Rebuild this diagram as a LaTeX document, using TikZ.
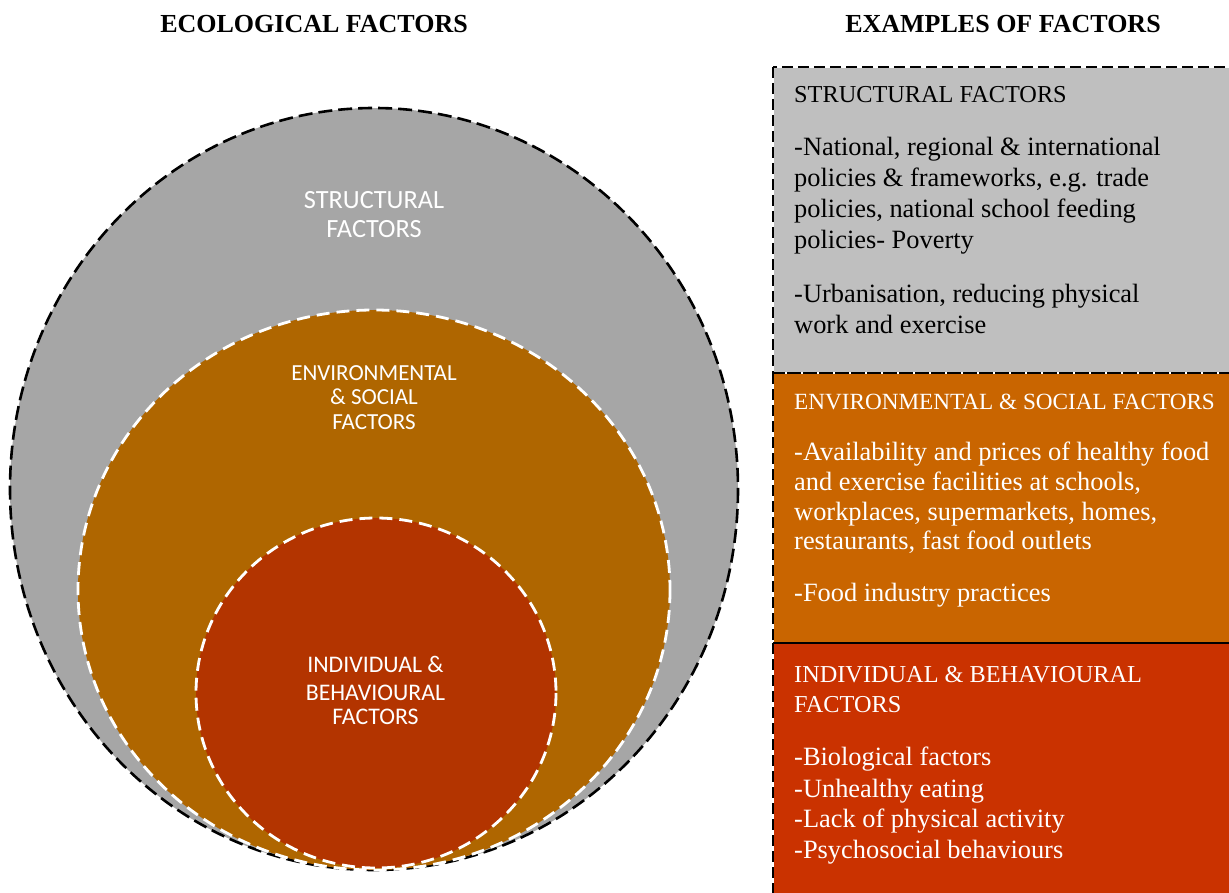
\documentclass[tikz,border=0pt]{standalone}
\usepackage{fontspec}
\setmainfont{Liberation Serif}
\newfontfamily\carlito{Carlito}
\definecolor{ellgray}{HTML}{A6A6A6}
\definecolor{ellorange}{HTML}{AF6600}
\definecolor{ellred}{HTML}{B33400}
\definecolor{boxgray}{HTML}{BFBFBF}
\definecolor{boxorange}{HTML}{C96500}
\definecolor{boxred}{HTML}{CA3200}
\begin{document}
\begin{tikzpicture}[x=1pt,y=-1pt,
  boxline/.style={anchor=base west, inner sep=0pt, font=\fontsize{26.4}{31}\selectfont},
  boxcaps/.style={anchor=base west, inner sep=0pt, font=\fontsize{24.3}{31}\selectfont},
  heading/.style={anchor=base, inner sep=0pt, font=\fontsize{26}{30}\selectfont\bfseries},
  circbig/.style={anchor=base, inner sep=0pt, text=white, font=\carlito\fontsize{26.3}{30}\selectfont},
  circenv/.style={anchor=base, inner sep=0pt, text=white, font=\carlito\fontsize{23}{27}\selectfont},
  circind/.style={anchor=base, inner sep=0pt, text=white, font=\carlito\fontsize{23.8}{27}\selectfont},
  outerdash/.style={draw=black, line width=2.6pt, dash pattern=on 14pt off 6pt},
  innerdash/.style={draw=white, line width=2.8pt, dash pattern=on 13pt off 7pt},
  boxwhite/.style={draw=white, line width=2.6pt},
  boxdash/.style={draw=black, line width=2.6pt, dash pattern=on 11pt off 5pt}
]
\clip (0,0) rectangle (1229,893);
\fill[white] (0,0) rectangle (1229,893);

% nested ellipses
\fill[ellgray] (374,489) ellipse [x radius=364, y radius=381];
\draw[outerdash] (374,489) ellipse [x radius=364, y radius=381];
\fill[ellorange] (374,590) ellipse [x radius=296, y radius=280];
\draw[innerdash] (374,590) ellipse [x radius=296, y radius=280];
\fill[ellred] (376,693) ellipse [x radius=180, y radius=175];
\draw[innerdash] (376,693) ellipse [x radius=180, y radius=175];

% circle labels
\node[circbig] (s1) at (374,209) {STRUCTURAL};
\node[circbig] (s2) at (374,238) {FACTORS};
\node[circenv] (e1) at (374,380) {ENVIRONMENTAL};
\node[circenv] (e2) at (374,404) {\& SOCIAL};
\node[circenv] (e3) at (374,429) {FACTORS};
\node[circind] (i1) at (375.5,672) {INDIVIDUAL \&};
\node[circind] (i2) at (375.5,700) {BEHAVIOURAL};
\node[circind] (i3) at (375.5,724) {FACTORS};

% headings
\node[heading] (h1) at (314,33) {ECOLOGICAL FACTORS};
\node[heading] (h2) at (1003,33) {EXAMPLES OF FACTORS};

% boxes
\fill[boxgray] (773,67) rectangle (1245,373);
\fill[boxorange] (773,373) rectangle (1245,643);
\fill[boxred] (773,643) rectangle (1245,900);
\foreach \ya/\yb in {67/373,373/643,643/900}{
  \draw[boxwhite] (773,\ya) rectangle (1245,\yb);
}
\foreach \ya/\yb in {67/373,373/643,643/900}{
  \draw[boxdash] (773,\ya) rectangle (1245,\yb);
}

% gray box text
\node[boxcaps] (g1) at (794,103) {STRUCTURAL FACTORS};
\node[boxline] (g2) at (794,156) {-National, regional \& international};
\node[boxline] (g3) at (794,187) {policies \& frameworks, e.g. trade};
\node[boxline] (g4) at (794,218) {policies, national school feeding};
\node[boxline] (g5) at (794,249) {policies- Poverty};
\node[boxline] (g6) at (794,303) {-Urbanisation, reducing physical};
\node[boxline] (g7) at (794,334) {work and exercise};

% orange box text
\begin{scope}[every node/.append style={text=white}]
\node[boxcaps, font=\fontsize{23.2}{31}\selectfont] (o1) at (794,409) {ENVIRONMENTAL \& SOCIAL FACTORS};
\node[boxline] (o2) at (794,460) {-Availability and prices of healthy food};
\node[boxline] (o3) at (794,490) {and exercise facilities at schools,};
\node[boxline] (o4) at (794,520) {workplaces, supermarkets, homes,};
\node[boxline] (o5) at (794,549) {restaurants, fast food outlets};
\node[boxline] (o6) at (794,601) {-Food industry practices};

% red box text
\node[boxcaps] (r1) at (794,682) {INDIVIDUAL \& BEHAVIOURAL};
\node[boxcaps] (r2) at (794,712) {FACTORS};
\node[boxline] (r3) at (794,765) {-Biological factors};
\node[boxline] (r4) at (794,797) {-Unhealthy eating};
\node[boxline] (r5) at (794,827) {-Lack of physical activity};
\node[boxline] (r6) at (794,858) {-Psychosocial behaviours};
\end{scope}
\end{tikzpicture}
\end{document}
